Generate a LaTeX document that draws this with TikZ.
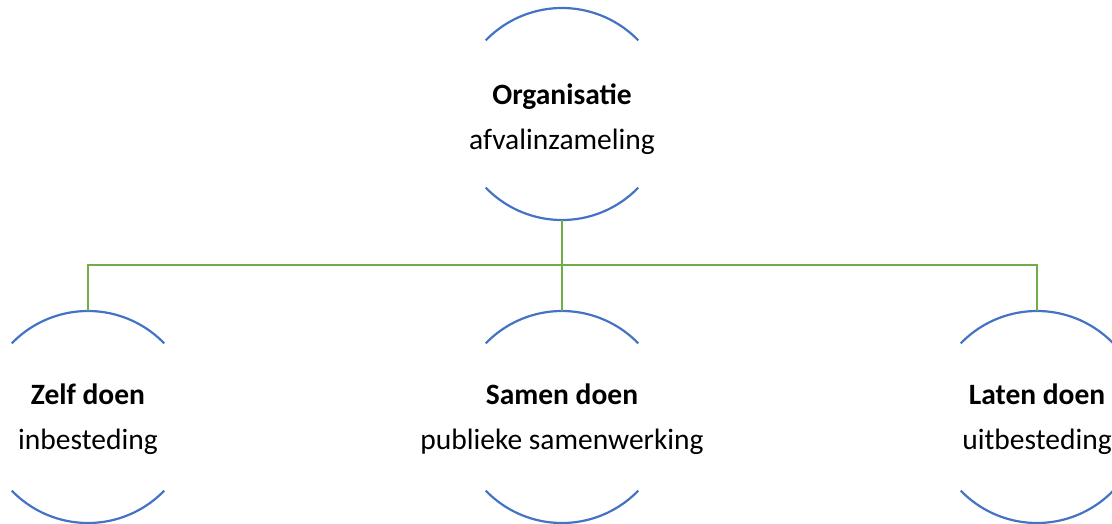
\documentclass[tikz,border=0pt]{standalone}
\usepackage{fontspec}
\setmainfont{Carlito}
\definecolor{arcblue}{HTML}{4472C4}
\definecolor{lingreen}{HTML}{70AD47}
\begin{document}
\begin{tikzpicture}[x=1pt,y=-1pt,
  ring/.style={circle,minimum size=212pt,inner sep=0pt,draw=none},
  lbl/.style={align=center,font=\fontsize{29.5}{45}\selectfont},
  arcline/.style={draw=arcblue,line width=2.2pt},
  conn/.style={draw=lingreen,line width=2.2pt}]
\useasboundingbox (0,0) rectangle (1112,523);
\node[ring] (top) at (562,114) {};
\node[ring] (left) at (88,417) {};
\node[ring] (mid) at (562,417) {};
\node[ring] (right) at (1037,417) {};
\foreach \n in {top,left,mid,right}{
  \draw[arcline] (\n.center) ++(44:106) arc[start angle=44,end angle=136,radius=106];
  \draw[arcline] (\n.center) ++(224:106) arc[start angle=224,end angle=316,radius=106];
}
\node[lbl] (ttop) at ([yshift=-5]top.center) {\textbf{Organisatie}\\afvalinzameling};
\node[lbl] (tleft) at ([yshift=-2]left.center) {\textbf{Zelf doen}\\inbesteding};
\node[lbl] (tmid) at ([yshift=-2]mid.center) {\textbf{Samen doen}\\publieke samenwerking};
\node[lbl] (tright) at ([yshift=-2]right.center) {\textbf{Laten doen}\\uitbesteding};
\coordinate (bus) at (562,265);
\draw[conn] (top.south) -- (bus);
\draw[conn] (bus) -| (left.north);
\draw[conn] (bus) -- (mid.north);
\draw[conn] (bus) -| (right.north);
\end{tikzpicture}
\end{document}
